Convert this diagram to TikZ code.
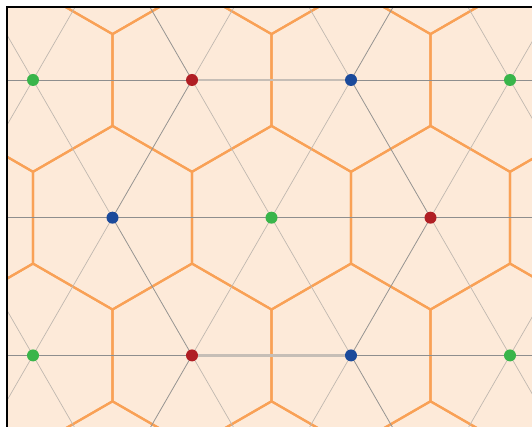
\documentclass[tikz,border=0pt]{standalone}
\usetikzlibrary{calc}
\definecolor{bgpeach}{RGB}{253,234,217}
\definecolor{hexorange}{RGB}{249,161,86}
\definecolor{dkgray}{RGB}{150,148,146}
\definecolor{hzgray}{RGB}{142,142,142}
\definecolor{ltgray}{RGB}{192,184,176}
\definecolor{hlgray}{RGB}{198,190,182}
\definecolor{dotgreen}{RGB}{57,181,74}
\definecolor{dotred}{RGB}{176,30,36}
\definecolor{dotblue}{RGB}{27,74,155}
\tikzset{
  hexline/.style={draw=hexorange, line width=2.2pt, line join=miter},
  darkline/.style={draw=dkgray, line width=0.8pt},
  lightline/.style={draw=ltgray, line width=0.7pt},
  horline/.style={draw=hzgray, line width=0.9pt},
  hiline/.style={draw=hlgray, line width=2.2pt},
  latdot/.style={circle, inner sep=0pt, minimum size=12pt, draw=none},
  gdot/.style={latdot, fill=dotgreen},
  rdot/.style={latdot, fill=dotred},
  bdot/.style={latdot, fill=dotblue},
}
\begin{document}
\begin{tikzpicture}[x=1pt,y=-1pt]
\useasboundingbox (0,0) rectangle (532,427);
\fill[white] (0,0) rectangle (532,427);
\fill[bgpeach] (7,7) rectangle (532,427);
% lattice coordinates
\foreach \j in {-1,...,4}{
  \foreach \i in {-5,...,6}{
    \coordinate (p\i_\j) at (33+159*\i+79.5*\j, 80+137.7*\j);
  }
}
\begin{scope}
\clip (7,7) rectangle (532,427);
% hexagons
\foreach \j in {-1,...,4}{
  \foreach \i in {-5,...,6}{
    \draw[hexline, shift={(p\i_\j)}] (90:91.8) -- (150:91.8) -- (210:91.8) -- (270:91.8) -- (330:91.8) -- (30:91.8) -- cycle;
  }
}
% lattice lines
\foreach \j in {-1,...,3}{
  \foreach \i in {-4,...,5}{
    \pgfmathtruncatemacro\c{mod(\i-\j+30,3)}
    \pgfmathtruncatemacro\jn{\j+1}
    \pgfmathtruncatemacro\im{\i-1}
    \pgfmathtruncatemacro\ip{\i+1}
    \draw[horline] (p\i_\j) -- (p\ip_\j);
    \ifnum\c=2
      \draw[darkline] (p\i_\j) -- (p\i_\jn);
    \else
      \draw[lightline] (p\i_\j) -- (p\i_\jn);
    \fi
    \ifnum\c=1
      \draw[darkline] (p\i_\j) -- (p\im_\jn);
    \else
      \draw[lightline] (p\i_\j) -- (p\im_\jn);
    \fi
  }
}
\end{scope}
% dots
\node[gdot] (g1) at (p0_0) {};
\node[rdot] (r1) at (p1_0) {};
\node[bdot] (b1) at (p2_0) {};
\node[gdot] (g2) at (p3_0) {};
\node[bdot] (b2) at (p0_1) {};
\node[gdot] (g3) at (p1_1) {};
\node[rdot] (r2) at (p2_1) {};
\node[gdot] (g4) at (p-1_2) {};
\node[rdot] (r3) at (p0_2) {};
\node[bdot] (b3) at (p1_2) {};
\node[gdot] (g5) at (p2_2) {};
% highlighted red-blue links
\draw[hiline] (r1) -- (b1);
\draw[hiline] (r3) -- (b3);
% frame
\draw[black, line width=2pt] (7,427) -- (7,7) -- (532,7);
\end{tikzpicture}
\end{document}
